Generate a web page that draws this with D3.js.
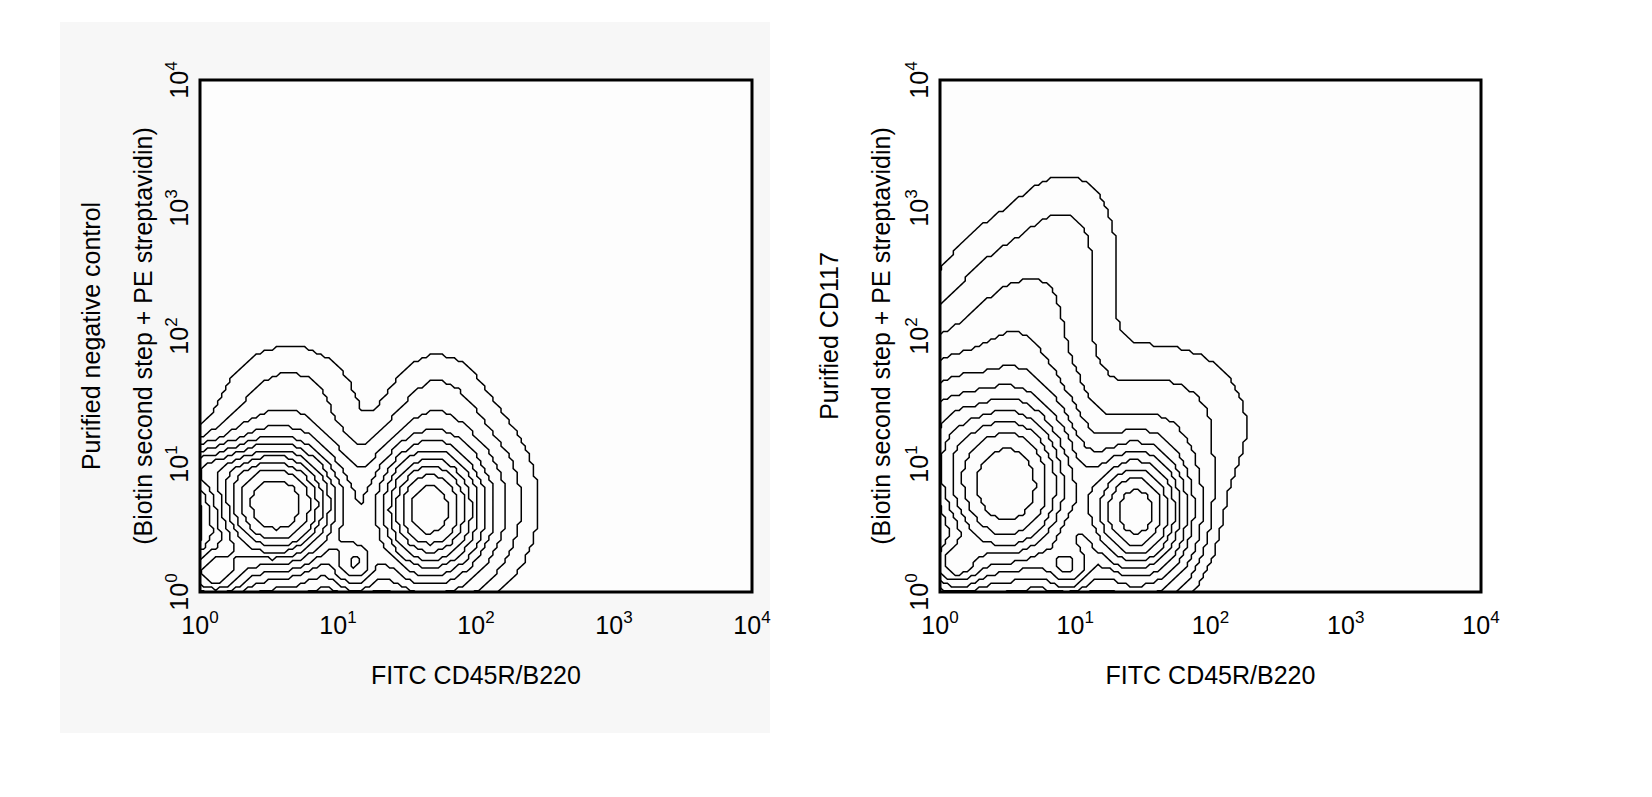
<!DOCTYPE html>
<html><head><meta charset="utf-8">
<script src="https://cdn.jsdelivr.net/npm/d3@7"></script>
<style>body{margin:0;background:#fff}text{font-family:"Liberation Sans",Arial,sans-serif;fill:#000}</style>
</head><body><svg id="c" width="1652" height="797"></svg>
<script>
// Populations in log10 units: [centerX, centerY, sigmaX, sigmaY, weight]
const popsLeft = [
  [0.55, 0.68, 0.26, 0.28, 1.0],
  [1.66, 0.64, 0.22, 0.30, 0.75],
  [0.10, 0.15, 0.16, 0.14, 0.35],
  [1.12, 0.22, 0.10, 0.13, 0.22],
  [0.65, 1.50, 0.30, 0.28, 0.045],
  [1.72, 1.45, 0.22, 0.28, 0.04],
  [2.05, 0.70, 0.25, 0.40, 0.05],
  [0.00, 0.95, 0.25, 0.12, 0.18]
];
const popsRight = [
  [0.50, 0.82, 0.30, 0.40, 1.0],
  [1.45, 0.62, 0.22, 0.30, 0.75],
  [0.10, 0.20, 0.14, 0.14, 0.35],
  [0.95, 0.18, 0.11, 0.12, 0.25],
  [0.55, 1.80, 0.33, 0.55, 0.12],
  [0.95, 2.70, 0.25, 0.40, 0.035],
  [1.65, 1.30, 0.40, 0.40, 0.05],
  [0.00, 1.20, 0.20, 0.45, 0.20]
];
const levels = [0.015, 0.035, 0.07, 0.12, 0.18, 0.25, 0.33, 0.42, 0.52, 0.64, 0.8];
const tickExp = [0, 1, 2, 3, 4];
const panels = [
  {pops: popsLeft, x0: 200, x1: 752, bg: "#f7f7f7", bgRect:[60,22,710,711],
   ylab: ["Purified negative control", "(Biotin second step + PE streptavidin)"], lx:[100,152]},
  {pops: popsRight, x0: 940, x1: 1481, bg: null,
   ylab: ["Purified CD117", "(Biotin second step + PE streptavidin)"], lx:[838,890]}
];
const svg = d3.select("#c");
const y0 = 592, y1 = 80;
panels.forEach((p, i) => {
  const g = svg.append("g");
  if (p.bg) g.append("rect").attr("x",p.bgRect[0]).attr("y",p.bgRect[1]).attr("width",p.bgRect[2]).attr("height",p.bgRect[3]).attr("fill",p.bg);
  g.append("rect").attr("x",p.x0).attr("y",y1).attr("width",p.x1-p.x0).attr("height",y0-y1).attr("fill","#fdfdfd");
  const xs = d3.scaleLog().domain([1,1e4]).range([p.x0,p.x1]);
  const ys = d3.scaleLog().domain([1,1e4]).range([y0,y1]);
  const lo = -0.4, hi = 4, n = 150;
  const step = (hi-lo)/n;
  const vals = new Float64Array(n*n);
  for (let j=0;j<n;j++) for (let k=0;k<n;k++){
    const lx = lo + (k+0.5)*step, ly = lo + (j+0.5)*step;
    let v = 0;
    p.pops.forEach(([cx,cy,sx,sy,w]) => { v += w*Math.exp(-0.5*(((lx-cx)/sx)**2+((ly-cy)/sy)**2)); });
    vals[j*n+k] = v;
  }
  const mx = d3.max(vals);
  const cont = d3.contours().size([n,n]).smooth(false).thresholds(levels.map(l=>l*mx))(vals);
  const proj = d3.geoTransform({point(x,y){ this.stream.point(xs(Math.pow(10, lo+x*step)), ys(Math.pow(10, lo+y*step))); }});
  const path = d3.geoPath(proj);
  const cid = "clip"+i;
  svg.append("clipPath").attr("id",cid).append("rect").attr("x",p.x0).attr("y",y1).attr("width",p.x1-p.x0).attr("height",y0-y1);
  g.append("g").attr("clip-path",`url(#${cid})`).selectAll("path").data(cont).join("path")
    .attr("d",path).attr("fill","none").attr("stroke","#000").attr("stroke-width",1.5);
  g.append("rect").attr("x",p.x0).attr("y",y1).attr("width",p.x1-p.x0).attr("height",y0-y1).attr("fill","none").attr("stroke","#000").attr("stroke-width",3);
  tickExp.forEach(e => {
    const t = g.append("text").attr("x",xs(Math.pow(10,e))).attr("y",634).attr("text-anchor","middle").attr("font-size",25);
    t.append("tspan").text("10");
    t.append("tspan").attr("dy",-11).attr("font-size",17).text(e);
    const yt = g.append("text").attr("transform",`translate(${p.x0-12},${ys(Math.pow(10,e))}) rotate(-90)`).attr("text-anchor","middle").attr("font-size",25);
    yt.append("tspan").text("10");
    yt.append("tspan").attr("dy",-11).attr("font-size",17).text(e);
  });
  g.append("text").attr("x",(p.x0+p.x1)/2).attr("y",684).attr("text-anchor","middle").attr("font-size",25).text("FITC CD45R/B220");
  p.ylab.forEach((s,k)=>{
    g.append("text").attr("transform",`translate(${p.lx[k]},336) rotate(-90)`).attr("text-anchor","middle").attr("font-size",25).text(s);
  });
});
</script></body></html>
